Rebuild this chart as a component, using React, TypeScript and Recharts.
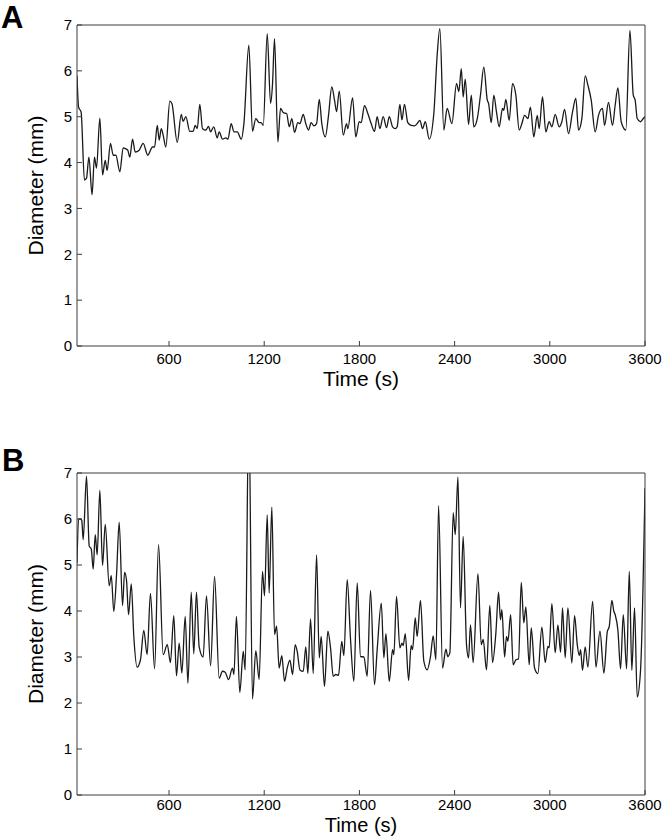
import { LineChart, Line, XAxis, YAxis } from "recharts"

// Panel A: vessel diameter over the hour (s, mm)
const timeA = [
  20, 30, 46, 67, 80, 95, 115, 130, 143, 164, 181, 198, 210, 231, 248, 265, 290, 311, 328, 340,
  353, 370, 387, 412, 437, 466, 496, 509, 526, 538, 551, 563, 580, 605, 618, 652, 677, 689, 706, 731,
  752, 765, 778, 794, 811, 832, 849, 862, 882, 904, 916, 937, 958, 971, 992, 1009, 1030, 1055, 1072, 1103,
  1126, 1147, 1168, 1181, 1194, 1219, 1240, 1252, 1265, 1286, 1303, 1320, 1341, 1358, 1374, 1391, 1412, 1425, 1446, 1462,
  1479, 1496, 1513, 1530, 1547, 1563, 1585, 1605, 1626, 1643, 1656, 1673, 1698, 1719, 1727, 1757, 1777, 1799, 1811, 1832,
  1853, 1874, 1895, 1912, 1929, 1950, 1971, 1988, 2009, 2026, 2038, 2055, 2068, 2084, 2105, 2126, 2147, 2164, 2181, 2198,
  2215, 2240, 2269, 2290, 2307, 2332, 2353, 2383, 2412, 2427, 2442, 2454, 2467, 2488, 2505, 2521, 2543, 2563, 2584, 2606,
  2614, 2631, 2647, 2664, 2681, 2702, 2710, 2723, 2744, 2765, 2786, 2807, 2824, 2841, 2862, 2878, 2899, 2921, 2933, 2954,
  2975, 2996, 3013, 3034, 3059, 3076, 3093, 3118, 3143, 3164, 3181, 3202, 3223, 3240, 3261, 3286, 3307, 3332, 3345, 3370,
  3395, 3412, 3429, 3450, 3479, 3505, 3526, 3538, 3551, 3572, 3589, 3600,
]
const diamA = [
  5.9, 5.21, 5.1, 3.62, 3.66, 4.12, 3.3, 4.12, 3.88, 4.97, 3.73, 4.05, 3.83, 4.42, 4.16, 4.16, 3.8, 4.32, 4.3, 4.27,
  4.12, 4.51, 4.23, 4.27, 4.42, 4.16, 4.34, 4.34, 4.81, 4.49, 4.74, 4.6, 4.34, 5.34, 5.29, 4.44, 5.05, 4.9, 5.0, 4.68,
  4.68, 4.81, 4.74, 5.27, 4.74, 4.71, 4.79, 4.67, 4.78, 4.54, 4.67, 4.51, 4.54, 4.51, 4.85, 4.67, 4.67, 4.51, 4.85, 6.56,
  4.68, 4.96, 4.87, 4.87, 4.81, 6.81, 5.29, 5.69, 6.7, 4.45, 5.18, 5.09, 5.07, 4.78, 4.96, 4.66, 4.87, 4.85, 5.05, 4.85,
  4.71, 4.87, 4.8, 4.85, 5.38, 4.85, 4.56, 5.02, 5.65, 5.36, 5.11, 5.56, 4.6, 4.85, 4.74, 5.41, 4.56, 4.89, 4.87, 5.24,
  5.07, 4.85, 4.68, 5.0, 4.74, 5.0, 4.76, 5.0, 4.78, 4.74, 4.78, 5.27, 4.93, 5.27, 4.87, 4.81, 4.8, 4.85, 4.92, 4.74,
  4.89, 4.51, 5.07, 6.34, 6.92, 4.71, 5.18, 4.85, 5.72, 5.55, 6.05, 5.43, 5.82, 4.83, 5.47, 4.78, 4.96, 5.47, 6.08, 5.36,
  5.29, 4.87, 5.47, 5.1, 4.78, 5.18, 5.14, 5.38, 4.92, 5.72, 5.47, 4.71, 4.85, 5.03, 4.96, 5.21, 4.56, 5.03, 4.74, 5.43,
  4.67, 4.89, 4.78, 5.05, 4.78, 4.89, 5.16, 4.63, 5.1, 5.4, 4.71, 4.96, 5.89, 5.69, 5.36, 4.67, 5.03, 5.18, 4.81, 5.31,
  4.81, 5.25, 5.63, 4.89, 4.71, 6.88, 5.47, 5.36, 4.96, 4.89, 4.96, 5.0,
]

// Panel B
const timeB = [
  20, 30, 42, 50, 59, 80, 97, 110, 122, 135, 147, 164, 181, 198, 223, 236, 252, 269, 286, 307,
  320, 332, 345, 362, 378, 399, 420, 441, 462, 483, 509, 534, 563, 589, 609, 630, 647, 664, 681, 702,
  719, 740, 756, 773, 790, 815, 836, 862, 887, 916, 937, 954, 975, 1000, 1009, 1025, 1046, 1068, 1080, 1103,
  1126, 1147, 1168, 1189, 1202, 1219, 1231, 1248, 1265, 1278, 1294, 1311, 1328, 1345, 1362, 1379, 1395, 1408, 1425, 1446,
  1462, 1475, 1492, 1509, 1530, 1547, 1559, 1580, 1601, 1618, 1635, 1651, 1668, 1689, 1702, 1723, 1744, 1765, 1786, 1807,
  1828, 1849, 1870, 1895, 1912, 1938, 1954, 1967, 1988, 2009, 2017, 2034, 2055, 2068, 2076, 2089, 2110, 2126, 2135, 2152,
  2164, 2185, 2206, 2227, 2248, 2265, 2282, 2299, 2324, 2345, 2357, 2370, 2391, 2404, 2421, 2437, 2454, 2475, 2488, 2500,
  2517, 2547, 2568, 2580, 2601, 2622, 2639, 2660, 2677, 2689, 2698, 2715, 2727, 2736, 2753, 2769, 2786, 2803, 2820, 2836,
  2849, 2870, 2883, 2904, 2925, 2950, 2971, 2988, 2996, 3013, 3034, 3051, 3068, 3080, 3097, 3114, 3139, 3156, 3173, 3186,
  3194, 3206, 3223, 3240, 3270, 3291, 3316, 3341, 3362, 3375, 3391, 3404, 3412, 3429, 3446, 3463, 3484, 3501, 3517, 3534,
  3551, 3572, 3600,
]
const diamB = [
  5.04, 6.0, 6.0, 5.97, 5.55, 6.93, 5.41, 5.35, 4.91, 5.66, 5.22, 6.62, 4.99, 5.88, 4.55, 4.77, 3.99, 4.77, 5.93, 4.12,
  4.84, 4.67, 3.92, 4.59, 3.45, 2.78, 2.94, 3.58, 3.05, 4.38, 2.74, 5.44, 3.05, 3.27, 2.88, 3.9, 2.59, 3.3, 2.65, 3.88,
  2.43, 4.41, 3.07, 4.41, 3.22, 3.0, 4.33, 2.81, 4.75, 2.54, 2.69, 2.67, 2.51, 2.76, 2.62, 3.88, 2.23, 3.12, 2.72, 8.5,
  2.09, 3.14, 2.51, 4.86, 4.33, 6.09, 4.39, 6.26, 3.49, 3.67, 2.76, 3.03, 2.47, 2.76, 2.93, 2.62, 3.27, 3.12, 2.72, 2.69,
  3.22, 2.64, 3.83, 2.64, 5.22, 2.98, 3.45, 2.36, 3.56, 3.2, 2.58, 2.62, 2.6, 3.34, 3.03, 4.68, 3.38, 2.47, 4.61, 3.01,
  3.0, 2.58, 4.45, 2.4, 3.16, 4.17, 2.98, 3.51, 2.47, 3.16, 3.05, 4.32, 3.2, 3.3, 3.25, 3.51, 2.49, 3.25, 3.16, 3.85,
  3.45, 4.23, 2.91, 2.72, 3.01, 3.46, 2.94, 6.29, 2.76, 3.17, 3.01, 3.09, 6.14, 5.66, 6.91, 4.07, 5.62, 3.27, 2.98, 3.7,
  2.88, 4.81, 3.27, 3.38, 2.72, 4.12, 2.88, 3.52, 4.41, 3.81, 4.03, 3.0, 3.45, 3.34, 3.92, 2.83, 2.94, 2.96, 4.62, 3.74,
  4.09, 2.83, 3.63, 2.76, 2.64, 3.65, 2.88, 3.23, 3.2, 4.16, 3.09, 3.7, 3.1, 4.07, 2.98, 4.07, 2.87, 3.9, 3.27, 3.03,
  3.16, 2.71, 3.22, 2.78, 4.21, 2.78, 3.56, 2.65, 3.54, 3.67, 4.23, 3.99, 3.92, 3.59, 2.74, 3.92, 2.74, 4.86, 2.71, 4.07,
  2.13, 2.72, 6.67,
]

const timeTicks = [600, 1200, 1800, 2400, 3000, 3600]
const diamTicks = [0, 1, 2, 3, 4, 5, 6, 7]

const FONT = '"Liberation Sans", Arial, Helvetica, sans-serif'
const AXIS = "#3c3c3c"

function TimeTitle(props: any) {
  const vb = props.viewBox || { x: 77, y: 346, width: 568, height: 40 }
  return (
    <text
      x={vb.x + vb.width / 2}
      y={vb.y + vb.height}
      textAnchor="middle"
      fontSize={props.size || 21}
      fontFamily={FONT}
      fill="#000"
    >
      Time (s)
    </text>
  )
}

function DiamTitle(props: any) {
  const vb = props.viewBox || { x: 16, y: 25, width: 61, height: 321 }
  const cx = vb.x + 27
  const cy = vb.y + vb.height / 2
  return (
    <text
      x={cx}
      y={cy}
      transform={`rotate(-90, ${cx}, ${cy})`}
      textAnchor="middle"
      fontSize={21}
      fontFamily={FONT}
      fill="#000"
    >
      Diameter (mm)
    </text>
  )
}

function Panel({
  times,
  diam,
  height,
  bottom,
  xTitleGap,
  xTitleSize,
  xTickGap,
}: {
  times: number[]
  diam: number[]
  height: number
  bottom: number
  xTitleGap: number
  xTitleSize: number
  xTickGap: number
}) {
  const rows = times.map((t, i) => ({ t, d: diam[i] }))
  const tickFont = { fill: "#000", fontSize: 15, fontFamily: FONT }
  return (
    <LineChart width={664} height={height} data={rows} margin={{ top: 24, right: 18, bottom, left: 16 }}>
      <XAxis
        dataKey="t"
        type="number"
        domain={[20, 3600]}
        ticks={timeTicks}
        interval={0}
        allowDataOverflow
        height={xTitleGap}
        tickSize={-5}
        tickMargin={xTickGap}
        stroke={AXIS}
        tick={tickFont}
        label={<TimeTitle size={xTitleSize} />}
      />
      {/* mirrored box: top and right axes with inward ticks, no labels */}
      <XAxis
        xAxisId="top"
        orientation="top"
        dataKey="t"
        type="number"
        domain={[20, 3600]}
        ticks={timeTicks}
        interval={0}
        height={1}
        tickSize={-5}
        tick={false}
        stroke={AXIS}
      />
      <YAxis
        type="number"
        domain={[0, 7]}
        ticks={diamTicks}
        interval={0}
        allowDataOverflow
        width={61}
        tickSize={-5}
        tickMargin={10}
        stroke={AXIS}
        tick={tickFont}
        label={<DiamTitle />}
      />
      <YAxis
        yAxisId="right"
        orientation="right"
        type="number"
        domain={[0, 7]}
        ticks={diamTicks}
        interval={0}
        width={1}
        tickSize={-5}
        tick={false}
        stroke={AXIS}
      />
      <Line
        dataKey="d"
        type="monotone"
        stroke="#1a1a1a"
        strokeWidth={1.3}
        dot={false}
        isAnimationActive={false}
      />
      <Line
        xAxisId="top"
        yAxisId="right"
        dataKey="d"
        stroke="none"
        dot={false}
        activeDot={false}
        legendType="none"
        isAnimationActive={false}
      />
    </LineChart>
  )
}

export default function App() {
  return (
    <div style={{ position: "absolute", left: 0, top: 0, width: 664, height: 836, background: "#fff", overflow: "hidden" }}>
      <div style={{ position: "absolute", left: 0, top: 0 }}>
        <Panel times={timeA} diam={diamA} height={400} bottom={14} xTitleGap={40} xTitleSize={21} xTickGap={12} />
      </div>
      <div style={{ position: "absolute", left: 0, top: 448 }}>
        <Panel times={timeB} diam={diamB} height={388} bottom={4.2} xTitleGap={36.8} xTitleSize={20} xTickGap={9.5} />
      </div>
      <svg width={664} height={836} style={{ position: "absolute", left: 0, top: 0, pointerEvents: "none" }}>
        <text x={1} y={28} fontSize={31} fontWeight="bold" fontFamily={FONT} fill="#000">A</text>
        <text x={2} y={471} fontSize={31} fontWeight="bold" fontFamily={FONT} fill="#000">B</text>
      </svg>
    </div>
  )
}
